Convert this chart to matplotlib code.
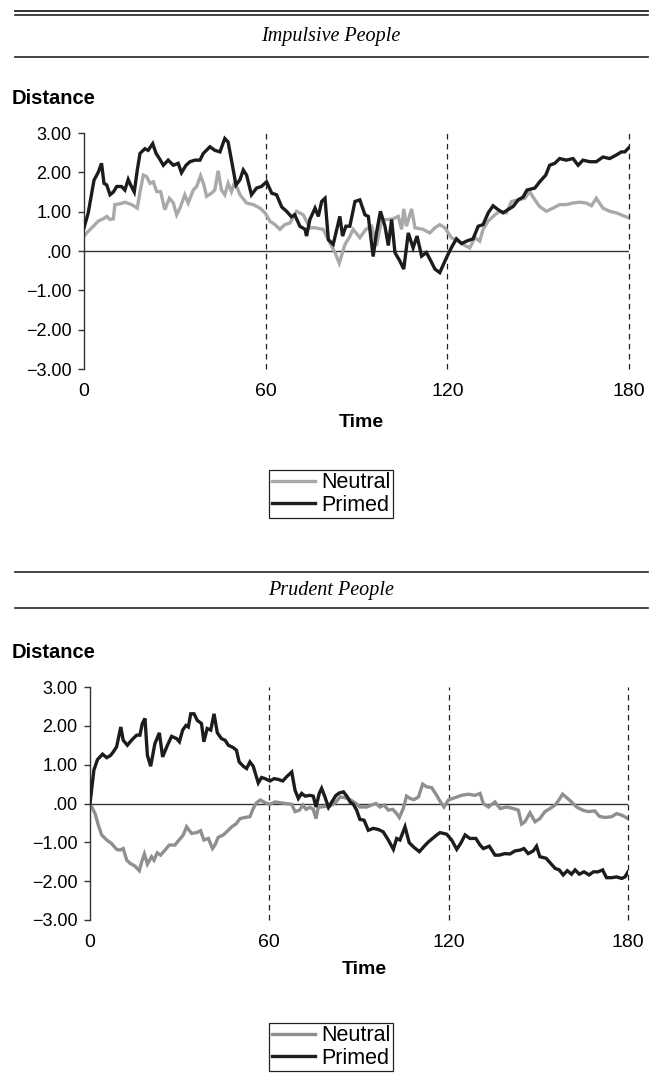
import matplotlib
matplotlib.use('Agg')
import matplotlib.pyplot as plt
from matplotlib.lines import Line2D

plt.rcParams['font.family'] = ['Liberation Sans', 'DejaVu Sans']

# ---- data ----
time_ticks = [0, 60, 120, 180]
y_ticks = [3, 2, 1, 0, -1, -2, -3]
y_tick_labels = ['3.00', '2.00', '1.00', '.00', '\u22121.00', '\u22122.00', '\u22123.00']
series_labels = ['Neutral', 'Primed']

# Impulsive People
imp_primed_t = [0, 1.4, 3.3, 4.7, 5.8, 6.6, 7.5, 8.6, 9.7, 10.8, 12.4, 13.5, 14.6, 15.4, 16.6, 17.6, 18.5, 20.1,
                21.2, 22.7, 23.8, 24.9, 26.2, 27.8, 29.5, 31.1, 32.2, 33.7, 35.0, 36.6, 38.3, 39.4, 41.6, 43.2,
                44.9, 46.5, 47.6, 48.7, 50.2, 51.5, 52.6, 53.7, 55.3, 57.0, 58.6,
                60.3, 62.0, 63.6, 65.3, 66.9, 68.5, 69.6, 71.3, 73.0, 73.5, 74.6, 76.3, 77.4, 78.5, 79.6, 80.7,
                82.3, 84.5, 85.4, 86.5, 87.8, 89.5, 91.1, 92.8, 93.9, 95.5, 96.6, 97.9, 99.4, 100.5, 101.6, 102.7,
                104.3, 105.6, 107.1, 108.7, 110.0, 111.5, 113.1, 114.8, 115.9,
                117.5, 119.7, 121.3, 123.0, 124.7, 126.3, 128.5, 130.2, 131.8, 133.5, 135.1, 136.8, 138.4, 140.0,
                141.7, 143.4, 145.0, 146.3, 148.9, 150.5, 152.5, 153.8, 155.5, 157.1, 159.3, 161.5, 163.2, 164.8,
                167.0, 169.2, 171.4, 173.6, 175.8, 177.5, 178.6, 180.0]
imp_primed_v = [0.59, 0.97, 1.80, 2.00, 2.23, 1.72, 1.68, 1.43, 1.50, 1.64, 1.64, 1.55, 1.82, 1.68, 1.50, 2.06, 2.48,
                2.60, 2.56, 2.73, 2.48, 2.35, 2.18, 2.31, 2.18, 2.23, 1.99, 2.18, 2.27, 2.31, 2.31, 2.48, 2.65, 2.56,
                2.52, 2.86, 2.77, 2.31, 1.68, 1.81, 2.06, 1.93, 1.43, 1.60, 1.64,
                1.76, 1.47, 1.43, 1.12, 1.01, 0.87, 0.92, 0.63, 0.55, 0.38, 0.80, 1.09, 0.88, 1.26, 1.34, 0.29,
                0.17, 0.88, 0.38, 0.63, 0.63, 1.26, 1.30, 0.92, 0.88, -0.14, 0.46, 1.01, 0.63, 0.14, 0.80, -0.04,
                -0.25, -0.46, 0.46, 0.08, 0.38, -0.13, -0.04, -0.29, -0.46,
                -0.55, -0.17, 0.08, 0.31, 0.19, 0.25, 0.31, 0.63, 0.67, 0.97, 1.15, 1.05, 0.97, 1.05,
                1.13, 1.30, 1.37, 1.55, 1.60, 1.76, 1.93, 2.18, 2.23, 2.35, 2.31, 2.35, 2.18, 2.31,
                2.27, 2.27, 2.39, 2.35, 2.44, 2.52, 2.52, 2.63]
imp_neutral_t = [0, 1.4, 3.1, 4.7, 6.4, 7.5, 8.6, 9.7, 10.2, 11.9, 13.5, 15.7, 17.6, 18.5, 19.6, 20.7, 21.8, 22.9,
                 24.0, 25.3, 26.7, 28.2, 29.5, 30.6, 31.7, 33.3, 34.4, 36.1, 37.2, 38.5, 39.6, 40.5, 42.1, 43.2,
                 44.3, 45.4, 46.5, 47.6, 48.7, 49.8, 51.5, 53.7, 55.9, 58.1,
                 59.8, 61.4, 63.1, 64.7, 66.3, 68.0, 70.2, 72.4, 74.6, 76.3, 79.0, 81.2, 82.9, 84.3, 86.2, 87.6,
                 88.9, 91.1, 93.1, 95.0, 96.6, 98.3, 100.5, 102.1, 103.8, 104.9, 105.6, 106.5, 108.2, 109.3, 112.0,
                 114.2, 115.9,
                 117.5, 119.2, 121.3, 123.6, 125.8, 127.4, 129.1, 130.7, 131.8, 133.5, 135.7, 137.3, 139.5, 141.2,
                 143.4, 145.6, 147.2, 148.9, 150.5, 152.7, 154.9, 157.1, 159.3, 161.5, 163.7, 165.9, 167.6, 169.2,
                 171.4, 173.6, 175.8, 178.0, 180.0]
imp_neutral_v = [0.38, 0.50, 0.63, 0.76, 0.82, 0.88, 0.80, 0.82, 1.18, 1.20, 1.24, 1.18, 1.09, 1.51, 1.93, 1.89, 1.72,
                 1.76, 1.51, 1.51, 1.05, 1.34, 1.22, 0.92, 1.09, 1.43, 1.22, 1.55, 1.64, 1.91, 1.68, 1.39, 1.47,
                 1.55, 2.04, 1.55, 1.43, 1.72, 1.51, 1.76, 1.43, 1.22, 1.18, 1.09,
                 0.97, 0.76, 0.67, 0.55, 0.67, 0.71, 1.01, 0.92, 0.59, 0.59, 0.55, 0.21, -0.04, -0.31, 0.17, 0.34,
                 0.55, 0.34, 0.55, 0.63, 0.13, 0.80, 0.80, 0.82, 0.88, 0.55, 1.07, 0.63, 1.07, 0.59, 0.55,
                 0.46, 0.59,
                 0.67, 0.59, 0.34, 0.25, 0.14, 0.08, 0.34, 0.25, 0.55, 0.76, 0.92, 1.01, 0.97, 1.26,
                 1.30, 1.34, 1.51, 1.30, 1.13, 1.01, 1.09, 1.18, 1.18, 1.22, 1.24, 1.22, 1.15, 1.34,
                 1.09, 1.01, 0.97, 0.90, 0.84]

# Prudent People
pru_primed_t = [0, 1.3, 2.5, 4.2, 5.6, 6.9, 7.8, 8.9, 10.3, 11.1, 12.5, 13.9, 15.6, 16.7, 17.5, 18.4, 19.2, 20.3,
                21.7, 23.2, 24.3, 25.9, 27.3, 29.0, 29.9, 31.0, 32.1, 32.9, 33.7, 34.8, 35.9, 37.3, 38.1, 39.2,
                40.4, 41.5, 42.6, 44.0, 45.2, 46.3, 47.9, 49.0, 49.9, 51.3, 52.4, 53.5, 54.6, 55.5, 56.3,
                57.4, 58.6, 60.2, 61.6, 63.0, 64.5, 65.8, 67.5, 68.6, 69.7, 70.8, 72.0, 73.6, 74.7, 75.6, 76.7,
                77.5, 78.6, 79.8, 80.9, 82.3, 83.4, 84.8, 86.1, 87.0, 88.1, 89.2, 90.3, 91.7, 93.1, 94.8, 96.5,
                98.1, 99.8, 101.5, 102.6, 103.7, 105.4, 106.8, 108.4, 110.2, 111.7, 113.2, 114.6, 116.0,
                117.1, 119.3, 121.0, 122.7, 124.0, 125.5, 127.1, 129.1, 130.5, 131.6, 133.6, 135.5, 136.9, 138.8,
                140.5, 142.2, 143.9, 145.2, 146.6, 148.3, 149.4, 150.5, 152.6, 154.1, 155.6, 157.0, 158.3, 159.7,
                161.1, 162.3, 163.7, 165.3, 167.0, 168.4, 170.0, 171.5, 172.8, 174.5, 176.2, 177.9, 179.0, 180.0]
pru_primed_v = [0, 0.86, 1.13, 1.27, 1.18, 1.24, 1.33, 1.46, 1.97, 1.63, 1.50, 1.63, 1.76, 1.76, 2.06, 2.19, 1.24,
                0.96, 1.54, 1.82, 1.20, 1.50, 1.73, 1.67, 1.59, 1.89, 2.01, 1.97, 2.31, 2.31, 2.14, 2.06, 1.59,
                1.93, 1.89, 2.31, 1.82, 1.67, 1.63, 1.50, 1.44, 1.37, 1.07, 0.96, 0.90, 1.07, 0.96, 0.73, 0.53,
                0.67, 0.64, 0.58, 0.64, 0.62, 0.58, 0.69, 0.81, 0.34, 0.13, 0.26, 0.19, 0.21, 0.19, -0.09, 0.26,
                0.39, 0.17, -0.10, 0.04, 0.21, 0.27, 0.30, 0.17, 0.04, -0.02, -0.17, -0.41, -0.43, -0.69, -0.64,
                -0.67, -0.73, -0.94, -1.18, -0.90, -0.94, -0.60, -1.01, -1.13, -1.24, -1.11, -0.99, -0.90, -0.81,
                -0.75, -0.79, -0.94, -1.18, -1.03, -0.81, -0.90, -0.90, -1.07, -1.16, -1.10, -1.33, -1.33, -1.29,
                -1.30, -1.22, -1.20, -1.16, -1.29, -1.22, -1.10, -1.37, -1.41, -1.54, -1.67, -1.71, -1.84, -1.73,
                -1.82, -1.71, -1.82, -1.76, -1.84, -1.76, -1.76, -1.71, -1.91, -1.91, -1.89, -1.93, -1.89, -1.76]
pru_neutral_t = [0, 1.7, 2.8, 3.9, 5.6, 7.2, 8.9, 10.0, 11.1, 12.3, 13.4, 15.0, 16.5, 17.3, 18.2, 19.2, 20.6, 21.4,
                 22.5, 23.6, 25.1, 26.5, 28.4, 29.9, 31.2, 32.3, 34.0, 35.7, 37.0, 38.1, 39.6, 41.0, 41.8, 42.9,
                 44.6, 45.7, 47.4, 48.8, 50.2, 51.8, 53.5, 54.6, 55.7,
                 57.0, 58.6, 60.2, 61.9, 63.6, 65.3, 67.5, 68.6, 70.1, 71.2, 72.3, 73.6, 74.7, 75.6, 76.4, 77.5,
                 78.6, 79.8, 80.9, 82.3, 83.7, 85.3, 87.0, 88.7, 90.3, 92.6, 94.2, 95.7, 97.0, 98.4, 99.8, 101.3,
                 102.6, 103.5, 104.8, 105.9, 107.1, 108.4, 109.9, 111.3, 112.6, 114.3, 116.0,
                 117.1, 118.4, 119.9, 122.1, 124.3, 126.6, 128.8, 130.5, 131.6, 133.3, 135.5, 137.2, 139.4, 141.6,
                 143.3, 144.4, 145.5, 147.2, 148.9, 150.5, 152.2, 153.9, 155.6, 156.7, 158.1, 159.5, 161.1, 162.8,
                 164.8, 166.7, 168.9, 170.4, 172.3, 174.5, 176.2, 177.9, 180.0]
pru_neutral_v = [0, -0.26, -0.56, -0.81, -0.94, -1.03, -1.18, -1.20, -1.16, -1.46, -1.54, -1.61, -1.73, -1.50,
                 -1.30, -1.56, -1.37, -1.46, -1.27, -1.33, -1.20, -1.07, -1.07, -0.93, -0.81, -0.60, -0.77, -0.75,
                 -0.70, -0.94, -0.90, -1.16, -1.07, -0.87, -0.81, -0.73, -0.60, -0.53, -0.39, -0.36, -0.34, -0.13,
                 0.02,
                 0.09, 0.02, -0.02, 0.04, 0.02, 0, -0.02, -0.21, -0.17, -0.04, -0.15, -0.10, -0.15, -0.39, -0.09,
                 -0.09, -0.07, -0.09, -0.04, 0.04, 0.17, 0.15, 0.10, 0.02, -0.09, -0.09, -0.04, 0, -0.09, -0.04,
                 -0.17, -0.15, -0.26, -0.36, -0.13, 0.19, 0.13, 0.10, 0.17, 0.50, 0.43, 0.41, 0.21,
                 0.06, -0.09, 0.09, 0.15, 0.21, 0.24, 0.21, 0.26, 0, -0.09, 0.04, -0.13, -0.09, -0.13,
                 -0.17, -0.53, -0.47, -0.24, -0.47, -0.39, -0.21, -0.13, -0.04, 0.07, 0.24, 0.15, 0.04, -0.09,
                 -0.17, -0.21, -0.19, -0.33, -0.36, -0.34, -0.26, -0.30, -0.39]

# ---- layout in pixels ----
W, H = 662, 1074
fig = plt.figure(figsize=(W / 100, H / 100), dpi=100)


def fx(x):
    return x / W


def fy(y):
    return 1 - y / H


def hrule(y, lw=1.2):
    fig.add_artist(Line2D([fx(15), fx(648)], [fy(y), fy(y)], transform=fig.transFigure,
                          color='#222222', lw=lw))


def panel(title, rules, title_y, dist_y, box, time_y, legend_y, neutral, primed, neutral_color):
    for r in rules:
        hrule(r)
    fig.text(fx(331), fy(title_y), title, ha='center', va='center', fontsize=14.5,
             family='Liberation Serif', style='italic')
    fig.text(fx(12), fy(dist_y), 'Distance', ha='left', va='center', fontsize=14.5, fontweight='bold')

    x0, y0, x1, y1 = box
    ax = fig.add_axes([fx(x0), fy(y1), (x1 - x0) / W, (y1 - y0) / H])
    ax.set_xlim(0, 180)
    ax.set_ylim(-3, 3)

    # zero line and dashed separators
    ax.axhline(0, color='#333333', lw=1.0, zorder=1)
    for t in time_ticks[1:]:
        ax.axvline(t, color='#222222', lw=0.9, dashes=(4.5, 3.5), zorder=1, clip_on=False)

    ln_n, = ax.plot(neutral[0], neutral[1], color=neutral_color, lw=2.4, zorder=2,
                    solid_joinstyle='miter')
    ln_p, = ax.plot(primed[0], primed[1], color='#1c1c1c', lw=2.4, zorder=3,
                    solid_joinstyle='miter')

    for side in ['top', 'right', 'bottom']:
        ax.spines[side].set_visible(False)
    ax.spines['left'].set_color('#333333')
    ax.spines['left'].set_linewidth(1.0)

    ax.set_yticks(y_ticks)
    ax.set_yticklabels(y_tick_labels)
    ax.tick_params(axis='y', length=4, width=1, color='#333333', labelsize=13, pad=5)
    ax.set_xticks(time_ticks)
    ax.tick_params(axis='x', length=0, labelsize=14, pad=10)

    fig.text(fx((x0 + x1) / 2 + 5), fy(time_y), 'Time', ha='center', va='center',
             fontsize=14, fontweight='bold')

    leg = fig.legend([ln_n, ln_p], series_labels, loc='center', bbox_to_anchor=(fx(331), fy(legend_y)),
                     frameon=True, fancybox=False, edgecolor='#222222', framealpha=1,
                     handlelength=2.0, handletextpad=0.3, borderpad=0.1, labelspacing=0.05,
                     fontsize=15.5, borderaxespad=0)
    leg.get_frame().set_linewidth(0.9)
    return ax


# Impulsive People
hrule(10.5, lw=1.3)
panel('Impulsive People', [14.5, 57], 37, 98, (84, 133, 629, 369), 423, 494,
      (imp_neutral_t, imp_neutral_v), (imp_primed_t, imp_primed_v), '#a7a9ab')

# Prudent People
panel('Prudent People', [572, 608], 591, 652, (90, 687, 628, 920), 970, 1047,
      (pru_neutral_t, pru_neutral_v), (pru_primed_t, pru_primed_v), '#8f8f8f')

fig.savefig('out.png', dpi=100)
